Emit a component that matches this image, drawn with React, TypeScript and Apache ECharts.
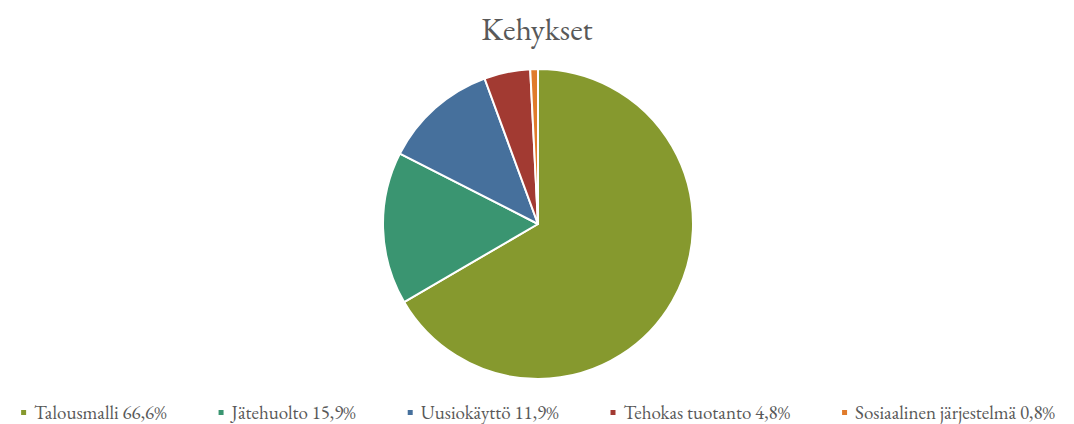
import React, { useEffect, useRef } from "react";
import * as echarts from "echarts";

const categories = ["Talousmalli", "Jätehuolto", "Uusiokäyttö", "Tehokas tuotanto", "Sosiaalinen järjestelmä"];
const values = [66.6, 15.9, 11.9, 4.8, 0.8];
const colors = ["#86992E", "#3A9571", "#46709C", "#A23A32", "#E07B2B"];

const fmt = (v: number) => v.toFixed(1).replace(".", ",") + "%";

export default function App() {
  const ref = useRef<HTMLDivElement>(null);
  useEffect(() => {
    if (!ref.current) return;
    const chart = echarts.init(ref.current, undefined, { renderer: "svg" });
    const font = "'EB Garamond', Garamond, 'Liberation Serif', 'DejaVu Serif', serif";
    chart.setOption({
      animation: false,
      color: colors,
      title: {
        text: "Kehykset",
        left: "center",
        top: 8,
        textStyle: { fontFamily: font, fontSize: 32, fontWeight: "normal", color: "#595959" },
      },
      legend: {
        bottom: -3,
        left: "center",
        icon: "rect",
        itemWidth: 7,
        itemHeight: 7,
        itemGap: 50,
        textStyle: { fontFamily: font, fontSize: 19, color: "#595959", padding: [0, 0, 0, 2] },
        formatter: (name: string) => {
          const i = categories.indexOf(name);
          return name + " " + fmt(values[i]);
        },
      },
      series: [
        {
          type: "pie",
          center: [538, 224],
          radius: 155,
          startAngle: 90,
          clockwise: true,
          label: { show: false },
          labelLine: { show: false },
          itemStyle: { borderColor: "#ffffff", borderWidth: 2 },
          data: categories.map((c, i) => ({ name: c, value: values[i] })),
        },
      ],
    });
    return () => chart.dispose();
  }, []);
  return <div ref={ref} style={{ position: "absolute", left: 0, top: 0, width: 1074, height: 424 }} />;
}
